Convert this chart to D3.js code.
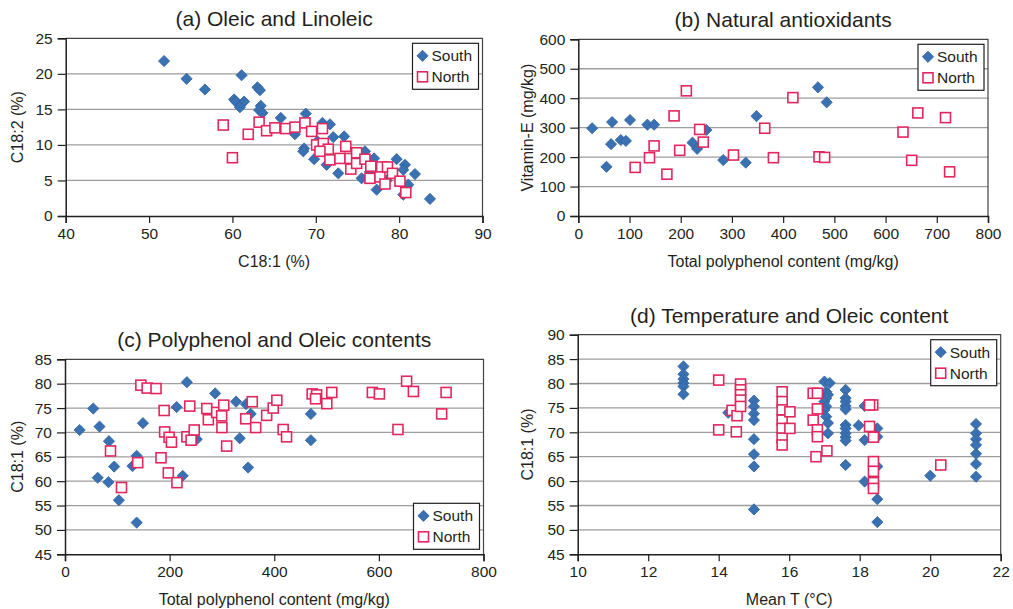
<!DOCTYPE html>
<html><head><meta charset="utf-8">
<script src="https://cdn.jsdelivr.net/npm/d3@7/dist/d3.min.js"></script>
<style>
body{margin:0;background:#fff}
svg{display:block}
text{font-family:"Liberation Sans",Arial,Helvetica,sans-serif;fill:#231f20}
</style>
</head><body>
<svg id="chart" width="1013" height="609"></svg>
<script>
// ---------- DATA ----------
const seriesNames = ["South", "North"];

// (a) Oleic (C18:1 %) vs Linoleic (C18:2 %)
const aSouth = [[51.8,21.8],[54.5,19.3],[56.7,17.8],[61.1,19.8],[63.0,18.1],[63.3,17.7],[60.2,16.4],[60.4,16.1],[61.4,16.1],[60.9,15.3],[63.4,15.5],[63.2,14.9],[63.6,14.5],[65.8,13.8],[67.5,11.5],[68.8,14.4],[68.6,9.5],[68.5,9.1],[69.8,8.0],[70.8,13.1],[71.7,12.9],[72.1,11.1],[71.3,7.2],[73.4,11.2],[72.7,6.0],[75.5,5.3],[75.9,9.1],[77.0,8.1],[77.3,3.7],[79.7,8.0],[80.7,7.2],[80.5,6.5],[81.9,5.9],[81.1,4.4],[80.5,3.0],[83.7,2.4],[74.5,7.5],[76.5,6.2],[78.5,5.0],[70.2,10.5]];
const aNorth = [[58.9,12.8],[60.0,8.2],[61.9,11.5],[63.2,13.2],[64.1,12.0],[65.1,12.4],[66.4,12.3],[67.5,12.5],[68.7,13.1],[69.5,11.9],[70.8,12.3],[70.1,10.0],[70.9,10.2],[71.5,9.4],[70.5,9.1],[71.7,7.9],[72.9,8.1],[73.6,9.8],[74.1,8.1],[74.9,8.9],[74.2,6.6],[74.9,7.4],[75.9,8.0],[76.6,7.0],[76.5,5.3],[77.9,6.9],[77.7,5.5],[78.6,6.9],[79.2,6.0],[80.1,4.9],[78.3,4.5],[80.8,3.3]];

// (b) Total polyphenol (mg/kg) vs Vitamin-E (mg/kg)
const bSouth = [[27,298],[55,167],[66,319],[64,244],[83,258],[93,255],[101,326],[135,310],[148,310],[223,249],[232,228],[250,292],[283,190],[327,181],[348,339],[468,437],[485,386]];
const bNorth = [[111,165],[139,198],[148,238],[173,142],[187,340],[198,223],[211,425],[237,294],[244,251],[303,207],[364,298],[381,198],[419,402],[470,201],[481,199],[634,285],[651,189],[663,350],[717,334],[725,150]];

// (c) Total polyphenol (mg/kg) vs C18:1 (%)
const cSouth = [[28,70.5],[54,74.9],[66,71.2],[84,68.2],[62.5,60.7],[83,59.8],[94,63.0],[103,56.1],[129,63.1],[137,65.2],[137,51.5],[149,71.9],[213.5,75.2],[233,80.3],[225,61.1],[252,68.6],[287,78.0],[327,76.3],[346,75.8],[355,73.8],[334,68.8],[350,62.8],[470,73.8],[470,68.4]];
const cNorth = [[87,66.2],[108,58.7],[139,63.8],[145,79.7],[157,79.1],[174,79.0],[189.5,74.5],[183.5,64.8],[190.5,70.1],[199,69.0],[203.5,68.0],[197.5,61.7],[214,59.7],[238.5,75.4],[233,69.1],[241,68.4],[247,70.5],[271,74.9],[274,72.6],[290,74.1],[299.5,73.4],[300,71.0],[303.5,75.6],[309,67.2],[345.5,72.8],[358,76.3],[364.5,71.0],[385.5,73.5],[398,75.0],[405,76.6],[417,70.6],[423.5,69.1],[472.5,77.9],[481,77.7],[479,76.9],[500.5,75.9],[510,78.2],[587.5,78.2],[601,77.9],[636.5,70.6],[653,80.5],[666,78.4],[728.5,78.2],[720,73.8]];

// (d) Mean T (°C) vs C18:1 (%)
const dSouth = [[13,83.5],[13,81.9],[13,80.9],[13,80.1],[13,79.4],[13,77.8],[14.27,74.0],[15,76.5],[15,75.3],[15,73.8],[15,72.5],[15,68.6],[15,65.5],[15,63.0],[15,54.2],[17.0,80.4],[17.15,80.1],[17.05,78.3],[17.1,77.7],[17.05,77.0],[17.0,76.3],[17.05,75.3],[17.0,74.6],[17.05,73.2],[17.1,71.9],[17.1,69.8],[17.6,78.7],[17.6,77.0],[17.6,76.3],[17.6,75.4],[17.6,74.7],[17.6,71.5],[17.6,70.8],[17.6,69.8],[17.6,69.0],[17.6,68.3],[17.6,63.3],[17.97,71.4],[18.14,75.4],[18.14,68.4],[18.14,59.9],[18.5,70.8],[18.5,69.1],[18.5,63.0],[18.5,56.3],[18.5,51.6],[20.0,61.1],[21.3,71.7],[21.3,69.8],[21.3,68.6],[21.3,67.4],[21.3,65.6],[21.3,63.5],[21.3,60.9]];
const dNorth = [[14.0,80.7],[14.0,70.5],[14.38,74.5],[14.5,70.1],[14.52,73.4],[14.62,79.9],[14.62,78.7],[14.62,77.7],[14.62,76.6],[14.62,75.3],[15.8,78.3],[15.8,76.3],[15.8,74.6],[15.8,72.5],[15.8,70.8],[15.8,68.8],[15.8,67.4],[16.02,74.2],[16.02,70.8],[16.68,78.0],[16.8,78.0],[16.8,74.8],[16.68,72.5],[16.8,70.5],[16.8,69.1],[16.76,65.0],[17.07,66.2],[18.37,75.6],[18.28,75.6],[18.28,71.2],[18.39,69.0],[18.39,64.0],[18.39,62.0],[18.39,59.7],[18.39,58.5],[20.3,63.3]];

// tick labels
const aXTicks = [40,50,60,70,80,90];
const aYTicks = [0,5,10,15,20,25];
const bXTicks = [0,100,200,300,400,500,600,700,800];
const bYTicks = [0,100,200,300,400,500,600];
const cXTicks = [0,200,400,600,800];
const cYTicks = [45,50,55,60,65,70,75,80,85];
const dXTicks = [10,12,14,16,18,20,22];
const dYTicks = [45,50,55,60,65,70,75,80,85,90];

const titles = ["(a) Oleic and Linoleic","(b) Natural antioxidants","(c) Polyphenol and Oleic contents","(d) Temperature and Oleic content"];
const xLabels = ["C18:1 (%)","Total polyphenol content (mg/kg)","Total polyphenol content (mg/kg)","Mean T (\u00B0C)"];
const yLabels = ["C18:2 (%)","Vitamin-E (mg/kg)","C18:1 (%)","C18:1 (%)"];

// ---------- STYLE / LAYOUT ----------
const BLUE = "#3a71b2", BLUE_STROKE = "#2e62a0", PINK = "#e2275f";
const panels = [
  {box:{l:65.7,r:482.5,t:38.3,b:216}, xt:aXTicks, yt:aYTicks, south:aSouth, north:aNorth, legend:"top", ylx:17},
  {box:{l:578.3,r:988,t:39.3,b:216}, xt:bXTicks, yt:bYTicks, south:bSouth, north:bNorth, legend:"top", ylx:527},
  {box:{l:65,r:483.5,t:359.3,b:554.3}, xt:cXTicks, yt:cYTicks, south:cSouth, north:cNorth, legend:"bottom", ylx:17},
  {box:{l:577.7,r:1000.7,t:334.7,b:554.3}, xt:dXTicks, yt:dYTicks, south:dSouth, north:dNorth, legend:"top", ylx:527}
];

const svg = d3.select("#chart");
const diamond = s => `M0,${-s}L${s},0L0,${s}L${-s},0Z`;

panels.forEach((p, i) => {
  const b = p.box;
  const x = d3.scaleLinear().domain(d3.extent(p.xt)).range([b.l, b.r]);
  const y = d3.scaleLinear().domain(d3.extent(p.yt)).range([b.b, b.t]);
  const g = svg.append("g");

  // gridlines
  g.append("g").selectAll("line").data(p.yt.slice(1, -1)).join("line")
    .attr("x1", b.l).attr("x2", b.r)
    .attr("y1", d => y(d)).attr("y2", d => y(d))
    .attr("stroke", "#9d9d9d").attr("stroke-width", 1.3);

  // frame top/right
  g.append("path").attr("d", `M${b.l},${b.t}H${b.r}V${b.b}`)
    .attr("fill", "none").attr("stroke", "#444").attr("stroke-width", 1.2);

  // axes
  const xAxis = d3.axisBottom(x).tickValues(p.xt).tickSize(7).tickPadding(5).tickFormat(d3.format("d"));
  const yAxis = d3.axisLeft(y).tickValues(p.yt).tickSize(8).tickPadding(5).tickFormat(d3.format("d"));
  const gx = g.append("g").attr("transform", `translate(0,${b.b})`).call(xAxis);
  const gy = g.append("g").attr("transform", `translate(${b.l},0)`).call(yAxis);
  [gx, gy].forEach(a => {
    a.select(".domain").attr("stroke", "#231f20").attr("stroke-width", 1.5);
    a.selectAll(".tick line").attr("stroke", "#231f20").attr("stroke-width", 1.2);
    a.selectAll(".tick text").attr("font-size", 15.5).attr("fill", "#231f20")
      .style("font-family", '"Liberation Sans",Arial,sans-serif');
  });

  // title
  g.append("text").attr("x", (b.l + b.r) / 2).attr("y", b.t - 12)
    .attr("text-anchor", "middle").attr("font-size", 21).text(titles[i]);
  // x label
  g.append("text").attr("x", (b.l + b.r) / 2).attr("y", b.b + 50.5)
    .attr("text-anchor", "middle").attr("font-size", 16).text(xLabels[i]);
  // y label
  g.append("text").attr("transform", `translate(${p.ylx},${(b.t + b.b) / 2}) rotate(-90)`)
    .attr("text-anchor", "middle").attr("dy", "0.35em").attr("font-size", 16).text(yLabels[i]);

  // points: South diamonds first, North squares on top
  g.append("g").selectAll("path").data(p.south).join("path")
    .attr("transform", d => `translate(${x(d[0])},${y(d[1])})`)
    .attr("d", diamond(5.6)).attr("fill", BLUE).attr("stroke", BLUE_STROKE).attr("stroke-width", 0.8);
  g.append("g").selectAll("rect").data(p.north).join("rect")
    .attr("x", d => x(d[0]) - 5).attr("y", d => y(d[1]) - 5)
    .attr("width", 10).attr("height", 10)
    .attr("fill", "#fff").attr("stroke", PINK).attr("stroke-width", 1.6);

  // legend
  const lw = 66, lh = 46;
  const lx = b.r - 4 - lw;
  const ly = p.legend === "top" ? b.t + 5 : b.b - 5 - lh;
  const lg = g.append("g").attr("transform", `translate(${lx},${ly})`);
  lg.append("rect").attr("width", lw).attr("height", lh).attr("fill", "#fff")
    .attr("stroke", "#231f20").attr("stroke-width", 1.2);
  lg.append("path").attr("transform", "translate(10,12.5)").attr("d", diamond(5.6))
    .attr("fill", BLUE).attr("stroke", BLUE_STROKE).attr("stroke-width", 0.8);
  lg.append("rect").attr("x", 5).attr("y", 28.5).attr("width", 10).attr("height", 10)
    .attr("fill", "#fff").attr("stroke", PINK).attr("stroke-width", 1.6);
  lg.append("text").attr("x", 19).attr("y", 12.5).attr("dy", "0.35em").attr("font-size", 15.5).text(seriesNames[0]);
  lg.append("text").attr("x", 19).attr("y", 33.5).attr("dy", "0.35em").attr("font-size", 15.5).text(seriesNames[1]);
});
</script>
</body></html>
